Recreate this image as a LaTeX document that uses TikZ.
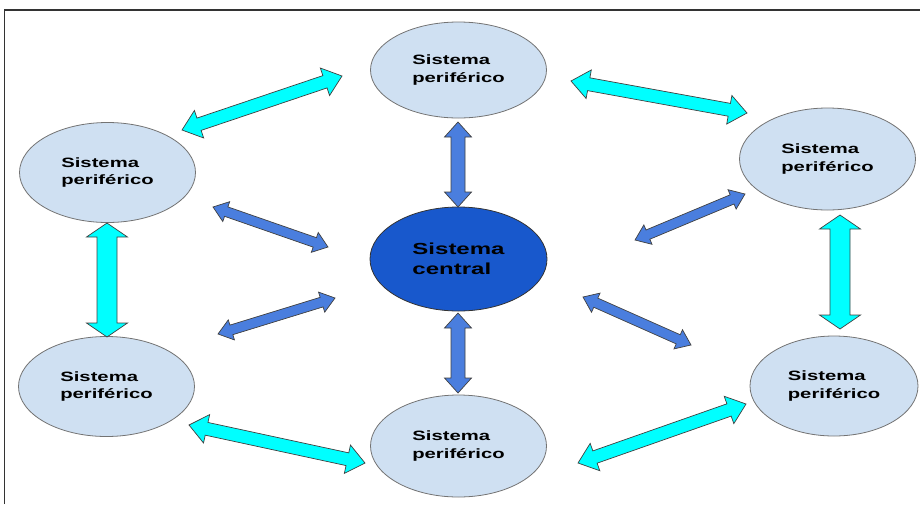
\documentclass[tikz,border=0pt]{standalone}
\usepackage{fontspec}
\usepackage{tikz}
\usetikzlibrary{shapes.geometric,calc}
\newfontfamily\wideSans[FakeStretch=1.5]{Liberation Sans}
\definecolor{periphfill}{RGB}{207,224,242}
\definecolor{centralfill}{RGB}{24,88,204}
\definecolor{linkcyan}{RGB}{0,255,255}
\definecolor{linkblue}{RGB}{74,126,222}

% double block arrow: style, from, to, shaft half width, head half width, head length
\newcommand{\dblarrow}[6]{%
  \path ($(#2)!#6!(#3)$) coordinate (da1) ($(#3)!#6!(#2)$) coordinate (da2);
  \draw[#1] (#2) -- ($(da1)!#5!90:(#3)$) -- ($(da1)!#4!90:(#3)$)
    -- ($(da2)!#4!90:(#3)$) -- ($(da2)!#5!90:(#3)$) -- (#3)
    -- ($(da2)!#5!-90:(#3)$) -- ($(da2)!#4!-90:(#3)$)
    -- ($(da1)!#4!-90:(#3)$) -- ($(da1)!#5!-90:(#3)$) -- cycle;
}

\tikzset{
  periph/.style={ellipse, draw=black!55, line width=0.8pt, fill=periphfill,
    minimum width=176pt, minimum height=100pt, inner sep=0pt, align=left,
    font=\wideSans\bfseries\fontsize{13.5}{17.5}\selectfont},
  central/.style={ellipse, draw=black!80, line width=0.8pt, fill=centralfill,
    minimum width=177pt, minimum height=104pt, inner sep=0pt, align=left,
    font=\wideSans\bfseries\fontsize{16}{19.5}\selectfont},
  cyanlink/.style={fill=linkcyan, draw=black!75, line width=0.7pt, line join=miter},
  bluelink/.style={fill=linkblue, draw=black!75, line width=0.7pt, line join=miter}
}

\begin{document}
\begin{tikzpicture}[x=1pt,y=-1pt]
  \useasboundingbox (0,0) rectangle (920,504);
  \draw[black!80, line width=1.3pt] (4.5,504) -- (4.5,10) -- (920,10);

  % systems
  \node (center) [central] at (458.5,259) {Sistema\\central};
  \node (top) [periph, minimum height=96pt] at (458.5,70) {Sistema\\periférico};
  \node (lefttop) [periph] at (107.5,172.5) {Sistema\\periférico};
  \node (righttop) [periph, minimum height=102pt] at (827.5,159) {Sistema\\periférico};
  \node (leftbot) [periph] at (106.5,386.5) {Sistema\\periférico};
  \node (rightbot) [periph, minimum width=168pt] at (834,386) {Sistema\\periférico};
  \node (bottom) [periph, minimum height=102pt] at (458.5,446) {Sistema\\periférico};

  % arrow ends
  \coordinate (tl1) at (182,130);   \coordinate (tl2) at (342,76);
  \coordinate (tr1) at (571,81);    \coordinate (tr2) at (747,113);
  \coordinate (ll1) at (107,223);   \coordinate (ll2) at (107,337);
  \coordinate (rr1) at (840,215);   \coordinate (rr2) at (840,329);
  \coordinate (lb1) at (189,425);   \coordinate (lb2) at (365,463);
  \coordinate (br1) at (578,463);   \coordinate (br2) at (746,404);
  \coordinate (tc1) at (458,122);   \coordinate (tc2) at (458,207);
  \coordinate (cb1) at (458,313);   \coordinate (cb2) at (458,393);
  \coordinate (ltc1) at (213,207);  \coordinate (ltc2) at (328,247);
  \coordinate (lbc1) at (218,334);  \coordinate (lbc2) at (335,298);
  \coordinate (rtc1) at (635,240);  \coordinate (rtc2) at (745,194);
  \coordinate (rbc1) at (583,297);  \coordinate (rbc2) at (691,345);

  % outer ring
  \dblarrow{cyanlink}{tl1}{tl2}{6.5pt}{14.5pt}{18pt}
  \dblarrow{cyanlink}{tr1}{tr2}{6.5pt}{14.5pt}{18pt}
  \dblarrow{cyanlink}{ll1}{ll2}{10pt}{20.5pt}{14pt}
  \dblarrow{cyanlink}{rr1}{rr2}{10pt}{20.5pt}{14pt}
  \dblarrow{cyanlink}{lb1}{lb2}{6.5pt}{14.5pt}{18pt}
  \dblarrow{cyanlink}{br1}{br2}{6.5pt}{14.5pt}{18pt}

  % to the centre
  \dblarrow{bluelink}{tc1}{tc2}{7pt}{13.5pt}{15pt}
  \dblarrow{bluelink}{cb1}{cb2}{7pt}{13.5pt}{15pt}
  \dblarrow{bluelink}{ltc1}{ltc2}{5pt}{10.5pt}{14pt}
  \dblarrow{bluelink}{lbc1}{lbc2}{5pt}{10.5pt}{14pt}
  \dblarrow{bluelink}{rtc1}{rtc2}{5pt}{10.5pt}{14pt}
  \dblarrow{bluelink}{rbc1}{rbc2}{5pt}{10.5pt}{14pt}
\end{tikzpicture}
\end{document}
